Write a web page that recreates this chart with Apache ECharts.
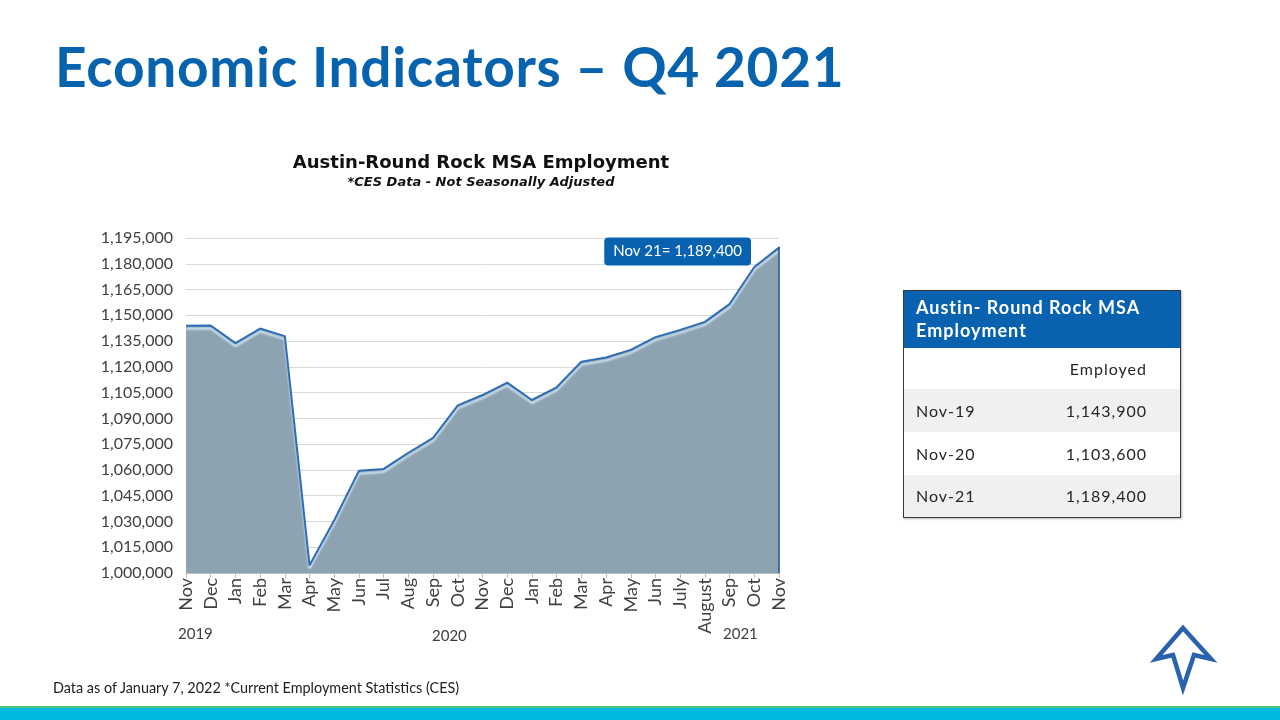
<!DOCTYPE html>
<html>
<head>
    <meta charset="UTF-8">
    <title>Economic Indicators – Q4 2021</title>
    <script src="https://cdn.jsdelivr.net/npm/echarts@6/dist/echarts.min.js"></script>
    <style>
        html, body { margin: 0; padding: 0; background: #fff; }
        body { width: 1280px; height: 720px; position: relative; overflow: hidden; font-family: Lato, "Noto Sans", sans-serif; }
        #chart { position: absolute; left: 0; top: 0; width: 1280px; height: 720px; }
        #heading { position: absolute; left: 55px; top: 33px; margin: 0; font-size: 55px; font-weight: 700; color: #0863ae; letter-spacing: 0.7px; line-height: 66px; }
        #table { position: absolute; left: 903px; top: 290px; width: 278px; border: 1px solid #3a3a3a; border-collapse: collapse; box-shadow: 1px 1px 2px #bbb; color: #262626; font-size: 16px; letter-spacing: 1px; }
        #table th { background: #0862b0; color: #fff; text-align: left; font-size: 18px; font-weight: 700; padding: 0 12px; line-height: 23px; height: 57px; box-sizing: border-box; }
        #table td { height: 43px; padding: 0 12px; box-sizing: border-box; }
        #table tr.head td { height: 41px; }
        #table td.num { text-align: right; padding-right: 33px; }
        #table tr.alt td { background: #f0f0f0; }
        #note { position: absolute; left: 53px; top: 679px; font-size: 14.4px; color: #222; }
        #bar { position: fixed; left: 0; bottom: 0; width: 1280px; height: 14px; background: #00b8e0; border-top: 2px solid #49c27b; box-sizing: border-box; z-index: 10; }
        #logo { position: absolute; left: 1150px; top: 620px; }
    </style>
</head>
<body>
    <div id="chart"></div>
    <h1 id="heading">Economic Indicators – Q4 2021</h1>
    <table id="table"></table>
    <div id="note">Data as of January 7, 2022 *Current Employment Statistics (CES)</div>
    <div id="bar"></div>
    <svg id="logo" width="70" height="76" viewBox="1150 620 70 76">
        <polygon points="1183,628 1211,659 1194,655 1183,688 1173,655 1156,659"
                 fill="none" stroke="#2b62ae" stroke-width="4.5" stroke-linejoin="miter" />
    </svg>

    <script>
        // chart data
        const months = ['Nov', 'Dec', 'Jan', 'Feb', 'Mar', 'Apr', 'May', 'Jun', 'Jul', 'Aug', 'Sep', 'Oct',
            'Nov', 'Dec', 'Jan', 'Feb', 'Mar', 'Apr', 'May', 'Jun', 'July', 'August', 'Sep', 'Oct', 'Nov'];
        const employment = [1143900, 1144100, 1133800, 1142300, 1137900, 1004500, 1030700, 1059500, 1060600,
            1070000, 1078600, 1097600, 1103600, 1110800, 1100700, 1108100, 1123000, 1125400, 1129900,
            1137300, 1141500, 1146200, 1156500, 1178100, 1189400];
        const yTicks = [1000000, 1015000, 1030000, 1045000, 1060000, 1075000, 1090000, 1105000,
            1120000, 1135000, 1150000, 1165000, 1180000, 1195000];
        const years = ['2019', '2020', '2021'];
        const lastLabel = 'Nov 21= 1,189,400';

        // table data
        const tableTitle = ['Austin- Round Rock MSA', 'Employment'];
        const tableHeader = 'Employed';
        const tableRows = ['Nov-19', 'Nov-20', 'Nov-21'];
        const tableValues = ['1,143,900', '1,103,600', '1,189,400'];

        const table = document.getElementById('table');
        let html = '<tr><th colspan="2">' + tableTitle.join('<br>') + '</th></tr>';
        html += '<tr class="head"><td></td><td class="num">' + tableHeader + '</td></tr>';
        tableRows.forEach((r, i) => {
            html += '<tr class="' + (i % 2 === 0 ? 'alt' : '') + '"><td>' + r + '</td><td class="num">' + tableValues[i] + '</td></tr>';
        });
        table.innerHTML = html;

        const myChart = echarts.init(document.getElementById('chart'));
        const fmt = v => v.toLocaleString('en-US');
        const last = employment.length - 1;

        const seriesData = employment.map((v, i) => {
            if (i !== last) return v;
            return {
                value: v,
                symbolSize: 2,
                label: {
                    show: true,
                    position: 'left',
                    distance: 27,
                    offset: [0, 4],
                    formatter: lastLabel,
                    backgroundColor: '#0862b0',
                    borderRadius: 4,
                    padding: [7, 9, 6, 9],
                    color: '#fff',
                    fontSize: 15,
                    fontFamily: 'Lato'
                }
            };
        });

        const option = {
            animation: false,
            title: {
                text: 'Austin-Round Rock MSA Employment',
                subtext: '*CES Data - Not Seasonally Adjusted',
                left: 476,
                top: 149,
                textAlign: 'center',
                itemGap: 4,
                textStyle: { fontFamily: 'DejaVu Sans', fontSize: 18, fontWeight: 'bold', color: '#111' },
                subtextStyle: { fontFamily: 'DejaVu Sans', fontSize: 13, fontWeight: 'bold', fontStyle: 'italic', color: '#111' }
            },
            grid: { left: 186, right: 501, top: 238, bottom: 147 },
            xAxis: {
                type: 'category',
                data: months,
                boundaryGap: false,
                axisLine: { lineStyle: { color: '#bfbfbf' } },
                axisTick: { show: true, alignWithLabel: true, length: 5, lineStyle: { color: '#bfbfbf' } },
                axisLabel: { interval: 0, rotate: 90, fontFamily: 'Lato', fontSize: 18, color: '#404040', margin: 5 }
            },
            yAxis: {
                type: 'value',
                min: 1000000,
                max: 1195000,
                axisLine: { show: false },
                axisTick: { show: false, customValues: yTicks },
                axisLabel: { customValues: yTicks, formatter: fmt, fontFamily: 'Lato', fontSize: 16, color: '#404040', margin: 13 },
                splitLine: { lineStyle: { color: '#d9d9d9' } }
            },
            graphic: [
                { type: 'text', left: 178, top: 627, style: { text: years[0], font: '15px Lato', fill: '#404040' } },
                { type: 'text', left: 432, top: 629, style: { text: years[1], font: '15px Lato', fill: '#404040' } },
                { type: 'text', left: 723, top: 627, style: { text: years[2], font: '15px Lato', fill: '#404040' } }
            ],
            series: [{
                type: 'line',
                data: seriesData,
                symbol: 'circle',
                symbolSize: 0,
                showSymbol: true,
                itemStyle: { color: '#2f6db5' },
                lineStyle: {
                    color: '#2f6db5',
                    width: 2,
                    shadowColor: 'rgba(215,235,250,0.95)',
                    shadowOffsetY: 3,
                    shadowBlur: 2
                },
                areaStyle: { color: '#8ea3b1', opacity: 1 },
                markLine: {
                    silent: true,
                    symbol: 'none',
                    label: { show: false },
                    lineStyle: { color: '#1f4f8a', width: 1.5, type: 'solid' },
                    data: [[{ coord: [last, 1000000] }, { coord: [last, employment[last]] }]]
                }
            }]
        };

        myChart.setOption(option);
    </script>
</body>
</html>
